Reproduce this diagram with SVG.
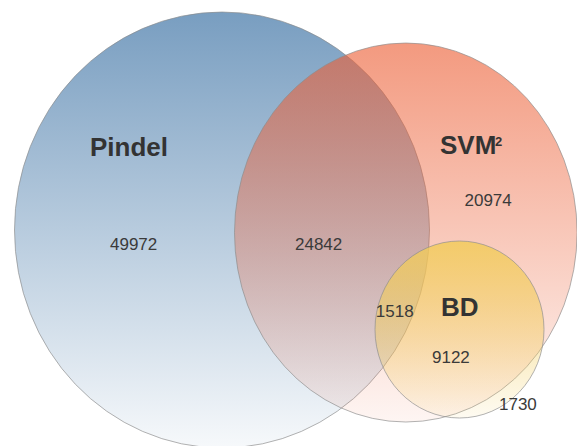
<svg xmlns="http://www.w3.org/2000/svg" width="577" height="446" viewBox="0 0 577 446">
  <defs>
    <!-- vertical fades: strong colour at the top, almost clear at the bottom -->
    <linearGradient id="gradPindel" x1="0" y1="0" x2="0" y2="1">
      <stop offset="0" stop-color="#26629a" stop-opacity="0.62"/>
      <stop offset="1" stop-color="#26629a" stop-opacity="0.04"/>
    </linearGradient>
    <linearGradient id="gradSvm" x1="0" y1="0" x2="0" y2="1">
      <stop offset="0" stop-color="#ec5e34" stop-opacity="0.63"/>
      <stop offset="1" stop-color="#ec5e34" stop-opacity="0.06"/>
    </linearGradient>
    <linearGradient id="gradBd" x1="0" y1="0" x2="0" y2="1">
      <stop offset="0" stop-color="#f2cc58" stop-opacity="0.82"/>
      <stop offset="1" stop-color="#f2cc58" stop-opacity="0.08"/>
    </linearGradient>
  </defs>
  <style>
    .set { stroke: #8c8c8c; stroke-opacity: 0.75; stroke-width: 0.9; }
    .title { font-family: "Liberation Sans", Arial, sans-serif; font-weight: bold; font-size: 26px; fill: #333333; }
    .sup { font-family: "Liberation Sans", Arial, sans-serif; font-weight: bold; font-size: 13px; fill: #333333; }
    .count { font-family: "Liberation Sans", Arial, sans-serif; font-size: 17px; fill: #3a3a3a; }
  </style>

  <g id="pindel">
    <ellipse class="set" cx="222" cy="230" rx="207.5" ry="218" fill="url(#gradPindel)"/>
  </g>

  <g id="svm2">
    <ellipse class="set" cx="405.8" cy="232.5" rx="171.3" ry="189.5" fill="url(#gradSvm)"/>
  </g>

  <g id="bd">
    <ellipse class="set" cx="459.5" cy="329.5" rx="84.5" ry="88.5" fill="url(#gradBd)"/>
  </g>

  <g id="labels">
    <text class="title" x="90" y="156">Pindel</text>
    <text class="title" x="440" y="154">SVM</text>
    <text class="sup" x="495" y="146">2</text>
    <text class="title" x="441" y="316">BD</text>
  </g>

  <g id="counts">
    <text class="count" x="110" y="250">49972</text>
    <text class="count" x="295" y="250">24842</text>
    <text class="count" x="464.5" y="205.5">20974</text>
    <text class="count" x="375.8" y="316.5">1518</text>
    <text class="count" x="432" y="363.3">9122</text>
    <text class="count" x="499" y="410">1730</text>
  </g>
</svg>
